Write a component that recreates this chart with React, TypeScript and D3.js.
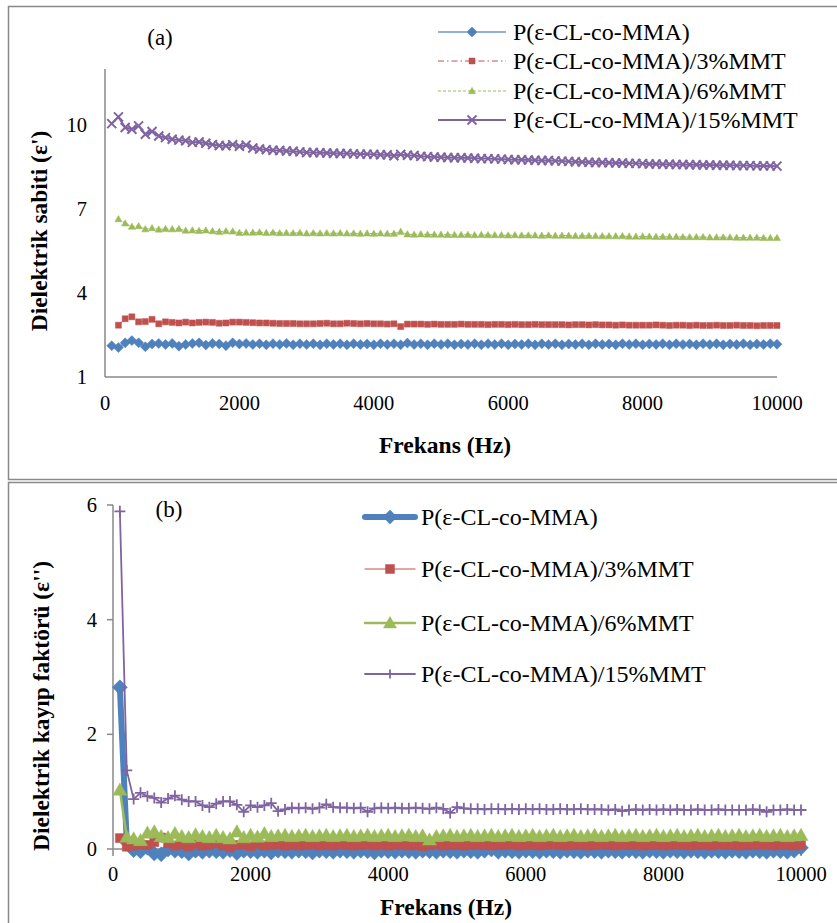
import React from "react";
import * as d3 from "d3";

const freq = d3.range(100, 10001, 100);

const seriesNames = [
  "P(ε-CL-co-MMA)",
  "P(ε-CL-co-MMA)/3%MMT",
  "P(ε-CL-co-MMA)/6%MMT",
  "P(ε-CL-co-MMA)/15%MMT",
];

const topBlue = [
  2.12,2.05,2.22,2.30,2.22,2.08,2.18,2.20,2.16,2.20,
  2.10,2.16,2.20,2.22,2.14,2.20,2.18,2.12,2.22,2.18,
  2.20,2.16,2.19,2.15,2.19,2.16,2.20,2.15,2.19,2.16,
  2.19,2.15,2.19,2.16,2.19,2.15,2.19,2.16,2.18,2.15,
  2.19,2.16,2.19,2.15,2.21,2.16,2.19,2.15,2.19,2.16,
  2.19,2.15,2.18,2.16,2.19,2.15,2.19,2.16,2.19,2.15,
  2.18,2.16,2.19,2.15,2.19,2.16,2.19,2.15,2.18,2.16,
  2.19,2.15,2.19,2.16,2.18,2.15,2.19,2.16,2.19,2.15,
  2.18,2.16,2.19,2.15,2.19,2.16,2.18,2.15,2.19,2.16,
  2.19,2.15,2.18,2.16,2.19,2.15,2.18,2.16,2.19,2.17,
];
const topRed = [
  null,2.85,3.08,3.15,2.97,2.98,3.06,2.90,2.97,2.95,
  2.93,2.96,2.93,2.95,2.96,2.95,2.92,2.93,2.96,2.96,
  2.95,2.94,2.93,2.93,2.92,2.91,2.91,2.91,2.90,2.90,
  2.90,2.91,2.92,2.90,2.90,2.92,2.91,2.90,2.91,2.90,
  2.90,2.89,2.90,2.80,2.89,2.89,2.89,2.88,2.89,2.88,
  2.88,2.88,2.89,2.88,2.88,2.88,2.87,2.88,2.88,2.87,
  2.88,2.87,2.87,2.88,2.87,2.87,2.87,2.87,2.86,2.87,
  2.87,2.86,2.87,2.86,2.86,2.85,2.86,2.85,2.85,2.85,
  2.85,2.86,2.85,2.84,2.85,2.85,2.84,2.85,2.84,2.84,
  2.85,2.84,2.84,2.85,2.84,2.84,2.83,2.84,2.84,2.84,
];
const topGreen = [
  null,6.64,6.49,6.37,6.39,6.28,6.32,6.27,6.29,6.28,
  6.29,6.23,6.24,6.22,6.24,6.21,6.19,6.21,6.20,6.15,
  6.16,6.16,6.17,6.15,6.16,6.14,6.15,6.14,6.15,6.13,
  6.14,6.13,6.14,6.13,6.14,6.13,6.13,6.12,6.13,6.12,
  6.13,6.12,6.12,6.19,6.10,6.09,6.10,6.09,6.09,6.09,
  6.08,6.08,6.08,6.08,6.07,6.08,6.07,6.07,6.07,6.06,
  6.07,6.06,6.06,6.06,6.05,6.06,6.05,6.05,6.05,6.04,
  6.04,6.04,6.04,6.03,6.03,6.03,6.03,6.02,6.02,6.02,
  6.02,6.01,6.01,6.01,6.01,6.00,6.00,6.00,6.00,5.99,
  5.99,5.99,5.99,5.98,5.98,5.98,5.98,5.97,5.97,5.97,
];
const topPurple = [
  10.05,10.29,9.91,9.85,9.97,9.67,9.77,9.61,9.55,9.49,
  9.46,9.44,9.38,9.39,9.35,9.30,9.27,9.26,9.30,9.24,
  9.28,9.18,9.14,9.12,9.10,9.09,9.07,9.06,9.04,9.02,
  9.02,9.01,9.00,8.99,8.98,8.98,8.97,8.96,8.96,8.95,
  8.94,8.94,8.90,8.95,8.92,8.91,8.88,8.87,8.86,8.85,
  8.84,8.83,8.83,8.82,8.81,8.80,8.80,8.79,8.78,8.77,
  8.76,8.76,8.75,8.74,8.73,8.73,8.72,8.71,8.70,8.69,
  8.68,8.67,8.66,8.66,8.65,8.64,8.64,8.63,8.63,8.62,
  8.61,8.61,8.60,8.60,8.59,8.59,8.58,8.58,8.57,8.57,
  8.56,8.56,8.56,8.55,8.55,8.55,8.54,8.54,8.54,8.53,
];

const botBlue = [
  2.82,0.12,-0.02,-0.04,0.02,-0.08,-0.09,-0.01,-0.03,-0.04,
  -0.08,-0.03,-0.05,-0.03,-0.04,-0.05,-0.02,-0.07,-0.03,-0.04,
  -0.05,-0.03,-0.06,-0.03,-0.04,-0.05,-0.03,-0.04,-0.06,-0.03,
  -0.04,-0.05,-0.03,-0.04,-0.05,-0.03,-0.04,-0.06,-0.03,-0.04,
  -0.05,-0.03,-0.04,-0.05,-0.03,-0.04,-0.05,-0.03,-0.04,-0.05,
  -0.03,-0.04,-0.05,-0.03,-0.01,-0.05,-0.03,-0.04,-0.05,-0.03,
  -0.04,-0.05,-0.03,-0.04,-0.05,-0.03,-0.04,-0.05,-0.03,-0.04,
  -0.05,-0.03,-0.04,-0.05,-0.03,-0.04,-0.05,-0.03,-0.04,-0.05,
  -0.03,-0.04,-0.05,-0.03,-0.04,-0.05,-0.03,-0.04,-0.05,-0.03,
  -0.04,-0.05,-0.03,-0.04,-0.05,-0.03,-0.04,-0.05,-0.03,0.02,
];
const botRed = [
  0.19,0.04,0.06,0.08,0.07,0.12,0.20,0.10,0.06,0.08,
  0.05,0.09,0.06,0.07,0.10,0.06,0.03,0.07,0.08,0.05,
  0.09,0.06,0.07,0.08,0.06,0.07,0.06,0.07,0.08,0.06,
  0.07,0.06,0.08,0.07,0.06,0.07,0.08,0.06,0.07,0.06,
  0.08,0.07,0.06,0.07,0.05,0.07,0.08,0.06,0.07,0.07,
  0.06,0.07,0.08,0.07,0.06,0.07,0.07,0.08,0.06,0.07,
  0.07,0.06,0.07,0.08,0.07,0.06,0.07,0.07,0.06,0.07,
  0.08,0.07,0.06,0.07,0.07,0.08,0.06,0.07,0.07,0.06,
  0.07,0.08,0.07,0.06,0.07,0.07,0.06,0.08,0.07,0.07,
  0.06,0.07,0.07,0.08,0.07,0.06,0.07,0.07,0.06,0.07,
];
const botGreen = [
  1.03,0.21,0.18,0.15,0.28,0.30,0.22,0.20,0.27,0.22,
  0.20,0.25,0.22,0.20,0.24,0.20,0.18,0.30,0.20,0.24,
  0.21,0.27,0.22,0.23,0.24,0.22,0.23,0.24,0.22,0.23,
  0.24,0.22,0.23,0.24,0.22,0.23,0.24,0.22,0.23,0.24,
  0.22,0.23,0.24,0.22,0.23,0.16,0.22,0.23,0.24,0.22,
  0.23,0.24,0.22,0.23,0.24,0.22,0.23,0.24,0.22,0.23,
  0.24,0.22,0.23,0.24,0.22,0.23,0.24,0.22,0.23,0.24,
  0.22,0.23,0.24,0.22,0.23,0.24,0.22,0.23,0.24,0.22,
  0.23,0.24,0.22,0.23,0.24,0.22,0.23,0.24,0.22,0.23,
  0.24,0.22,0.23,0.24,0.22,0.23,0.24,0.22,0.23,0.24,
];
const botPurple = [
  5.89,1.37,0.87,0.98,0.92,0.89,0.81,0.88,0.93,0.86,
  0.83,0.83,0.76,0.73,0.79,0.83,0.83,0.77,0.65,0.76,
  0.73,0.76,0.80,0.66,0.69,0.72,0.71,0.72,0.70,0.72,
  0.78,0.73,0.72,0.72,0.71,0.72,0.65,0.71,0.72,0.71,
  0.72,0.71,0.71,0.72,0.71,0.70,0.72,0.70,0.63,0.73,
  0.71,0.70,0.70,0.69,0.70,0.70,0.69,0.70,0.69,0.70,
  0.69,0.70,0.69,0.69,0.70,0.69,0.69,0.70,0.69,0.69,
  0.69,0.68,0.69,0.66,0.68,0.69,0.68,0.69,0.68,0.69,
  0.68,0.69,0.68,0.68,0.69,0.68,0.68,0.69,0.68,0.68,
  0.68,0.68,0.69,0.68,0.65,0.68,0.68,0.69,0.68,0.68,
];

const xTicks = [0, 2000, 4000, 6000, 8000, 10000];
const topYTicks = [1, 4, 7, 10];
const botYTicks = [0, 2, 4, 6];

const BLUE = "#4F81BD";
const RED = "#C0504D";
const GREEN = "#9BBB59";
const PURPLE = "#8064A2";
const AXIS = "#898989";
const FONT = "'Liberation Serif', 'Times New Roman', serif";

type Mk = "diamond" | "square" | "triangle" | "x" | "plus";

function markerPath(t: Mk, s: number) {
  switch (t) {
    case "diamond":
      return `M0,${-s}L${s},0L0,${s}L${-s},0Z`;
    case "square":
      return `M${-s},${-s}h${2 * s}v${2 * s}h${-2 * s}Z`;
    case "triangle":
      return `M0,${-s}L${s},${s * 0.75}L${-s},${s * 0.75}Z`;
    case "x":
      return `M${-s},${-s}L${s},${s}M${-s},${s}L${s},${-s}`;
    case "plus":
      return `M${-s},0H${s}M0,${-s}V${s}`;
  }
}

type Style = {
  color: string;
  lineColor: string;
  lw: number;
  dash?: string;
  mk: Mk;
  ms: number;
  mw?: number;
};

function Marker({ x, y, st }: { x: number; y: number; st: Style }) {
  const stroked = st.mk === "x" || st.mk === "plus";
  return (
    <path
      transform={`translate(${x},${y})`}
      d={markerPath(st.mk, st.ms)}
      fill={stroked ? "none" : st.color}
      stroke={st.color}
      strokeWidth={stroked ? st.mw ?? 2 : 0.5}
    />
  );
}

function Series({
  values,
  st,
  xs,
  ys,
}: {
  values: (number | null)[];
  st: Style;
  xs: d3.ScaleLinear<number, number>;
  ys: d3.ScaleLinear<number, number>;
}) {
  const pts = freq
    .map((f, i) => ({ f, v: values[i] }))
    .filter((p) => p.v !== null && p.v !== undefined) as { f: number; v: number }[];
  const line = d3
    .line<{ f: number; v: number }>()
    .x((d) => xs(d.f))
    .y((d) => ys(d.v));
  return (
    <g>
      <path
        d={line(pts) || ""}
        fill="none"
        stroke={st.lineColor}
        strokeWidth={st.lw}
        strokeDasharray={st.dash}
        strokeLinejoin="round"
      />
      {pts.map((p, i) => (
        <Marker key={i} x={xs(p.f)} y={ys(p.v)} st={st} />
      ))}
    </g>
  );
}

const topStyles: Style[] = [
  { color: BLUE, lineColor: "#6b96cc", lw: 1.5, mk: "diamond", ms: 5 },
  { color: RED, lineColor: RED, lw: 1, dash: "6,3,1.5,3", mk: "square", ms: 3 },
  { color: GREEN, lineColor: GREEN, lw: 1, dash: "3,2", mk: "triangle", ms: 3.6 },
  { color: PURPLE, lineColor: PURPLE, lw: 2, mk: "x", ms: 4.5, mw: 2 },
];
const botStyles: Style[] = [
  { color: BLUE, lineColor: BLUE, lw: 6, mk: "diamond", ms: 7.5 },
  { color: RED, lineColor: "#d48a88", lw: 1.5, mk: "square", ms: 4.5 },
  { color: GREEN, lineColor: GREEN, lw: 2.5, mk: "triangle", ms: 7 },
  { color: PURPLE, lineColor: PURPLE, lw: 1.8, mk: "plus", ms: 5.5, mw: 1.8 },
];

const topData = [topBlue, topRed, topGreen, topPurple];
const botData = [botBlue, botRed, botGreen, botPurple];

export default function App() {
  const xT = d3.scaleLinear().domain([0, 10000]).range([105, 777]);
  const yT = d3.scaleLinear().domain([1, 12]).range([377, 69]);
  const xB = d3.scaleLinear().domain([0, 10000]).range([113, 801]);
  const yB = d3.scaleLinear().domain([0, 6]).range([849, 505]);

  const topLegendY = [32, 61, 91, 120];
  const botLegendY = [517, 569, 623, 674];

  return (
    <svg
      width={837}
      height={923}
      style={{ position: "absolute", left: 0, top: 0, background: "#fff" }}
      fontFamily={FONT}
    >
      <rect x={0} y={0} width={837} height={923} fill="#fff" />
      <rect x={8.5} y={6.5} width={840} height={473} fill="none" stroke={AXIS} strokeWidth={1.5} />
      <rect x={8.5} y={482.5} width={840} height={460} fill="none" stroke={AXIS} strokeWidth={1.5} />

      {/* ===== Top chart (a) ===== */}
      <line x1={xT(0)} x2={xT(0)} y1={yT(12)} y2={yT(1)} stroke={AXIS} strokeWidth={1.5} />
      <line x1={xT(0)} x2={xT(10000)} y1={yT(1)} y2={yT(1)} stroke={AXIS} strokeWidth={1.5} />
      {topYTicks.map((t) => (
        <text key={t} x={87} y={yT(t)} textAnchor="end" dominantBaseline="central" fontSize={20.5}>
          {t}
        </text>
      ))}
      {xTicks.map((t) => (
        <text key={t} x={xT(t)} y={403} textAnchor="middle" dominantBaseline="central" fontSize={20.5}>
          {t}
        </text>
      ))}
      <text x={445} y={445} textAnchor="middle" dominantBaseline="central" fontSize={23.5} fontWeight="bold">
        Frekans (Hz)
      </text>
      <text
        transform={`translate(39,231) rotate(-90)`}
        textAnchor="middle"
        dominantBaseline="central"
        fontSize={23.5}
        fontWeight="bold"
      >
        Dielektrik sabiti (ε')
      </text>
      <text x={160} y={37} textAnchor="middle" dominantBaseline="central" fontSize={23}>
        (a)
      </text>
      {topData.map((vals, i) => (
        <Series key={i} values={vals} st={topStyles[i]} xs={xT} ys={yT} />
      ))}
      {seriesNames.map((name, i) => {
        const st = topStyles[i];
        const y = topLegendY[i];
        return (
          <g key={name}>
            <line x1={438} x2={506} y1={y} y2={y} stroke={st.lineColor} strokeWidth={st.lw} strokeDasharray={st.dash} />
            <Marker x={472} y={y} st={st} />
            <text x={513} y={y} dominantBaseline="central" fontSize={24}>
              {name}
            </text>
          </g>
        );
      })}

      {/* ===== Bottom chart (b) ===== */}
      <line x1={xB(0)} x2={xB(0)} y1={yB(6)} y2={yB(0)} stroke={AXIS} strokeWidth={1.5} />
      <line x1={xB(0)} x2={xB(10000)} y1={yB(0)} y2={yB(0)} stroke={AXIS} strokeWidth={1.5} />
      {botYTicks.map((t) => (
        <g key={t}>
          <line x1={xB(0) - 6} x2={xB(0)} y1={yB(t)} y2={yB(t)} stroke={AXIS} strokeWidth={1.5} />
          <text x={97} y={yB(t)} textAnchor="end" dominantBaseline="central" fontSize={20.5}>
            {t}
          </text>
        </g>
      ))}
      {xTicks.map((t) => (
        <g key={t}>
          <line x1={xB(t)} x2={xB(t)} y1={yB(0)} y2={yB(0) + 7} stroke={AXIS} strokeWidth={1.5} />
          <text x={xB(t)} y={874} textAnchor="middle" dominantBaseline="central" fontSize={20.5}>
            {t}
          </text>
        </g>
      ))}
      <text x={446} y={907} textAnchor="middle" dominantBaseline="central" fontSize={23.5} fontWeight="bold">
        Frekans (Hz)
      </text>
      <text
        transform={`translate(41,706) rotate(-90)`}
        textAnchor="middle"
        dominantBaseline="central"
        fontSize={23.5}
        fontWeight="bold"
      >
        Dielektrik kayıp faktörü (ε'')
      </text>
      <text x={169} y={509} textAnchor="middle" dominantBaseline="central" fontSize={23}>
        (b)
      </text>
      {botData.map((vals, i) => (
        <Series key={i} values={vals} st={botStyles[i]} xs={xB} ys={yB} />
      ))}
      {seriesNames.map((name, i) => {
        const st = botStyles[i];
        const y = botLegendY[i];
        return (
          <g key={name}>
            <line x1={365} x2={415} y1={y} y2={y} stroke={st.lineColor} strokeWidth={st.lw} strokeLinecap="round" />
            <Marker x={390} y={y} st={{ ...st, ms: i === 0 ? 7 : i === 1 ? 4.5 : i === 2 ? 6.5 : 4.5 }} />
            <text x={421} y={y} dominantBaseline="central" fontSize={24}>
              {name}
            </text>
          </g>
        );
      })}
    </svg>
  );
}
